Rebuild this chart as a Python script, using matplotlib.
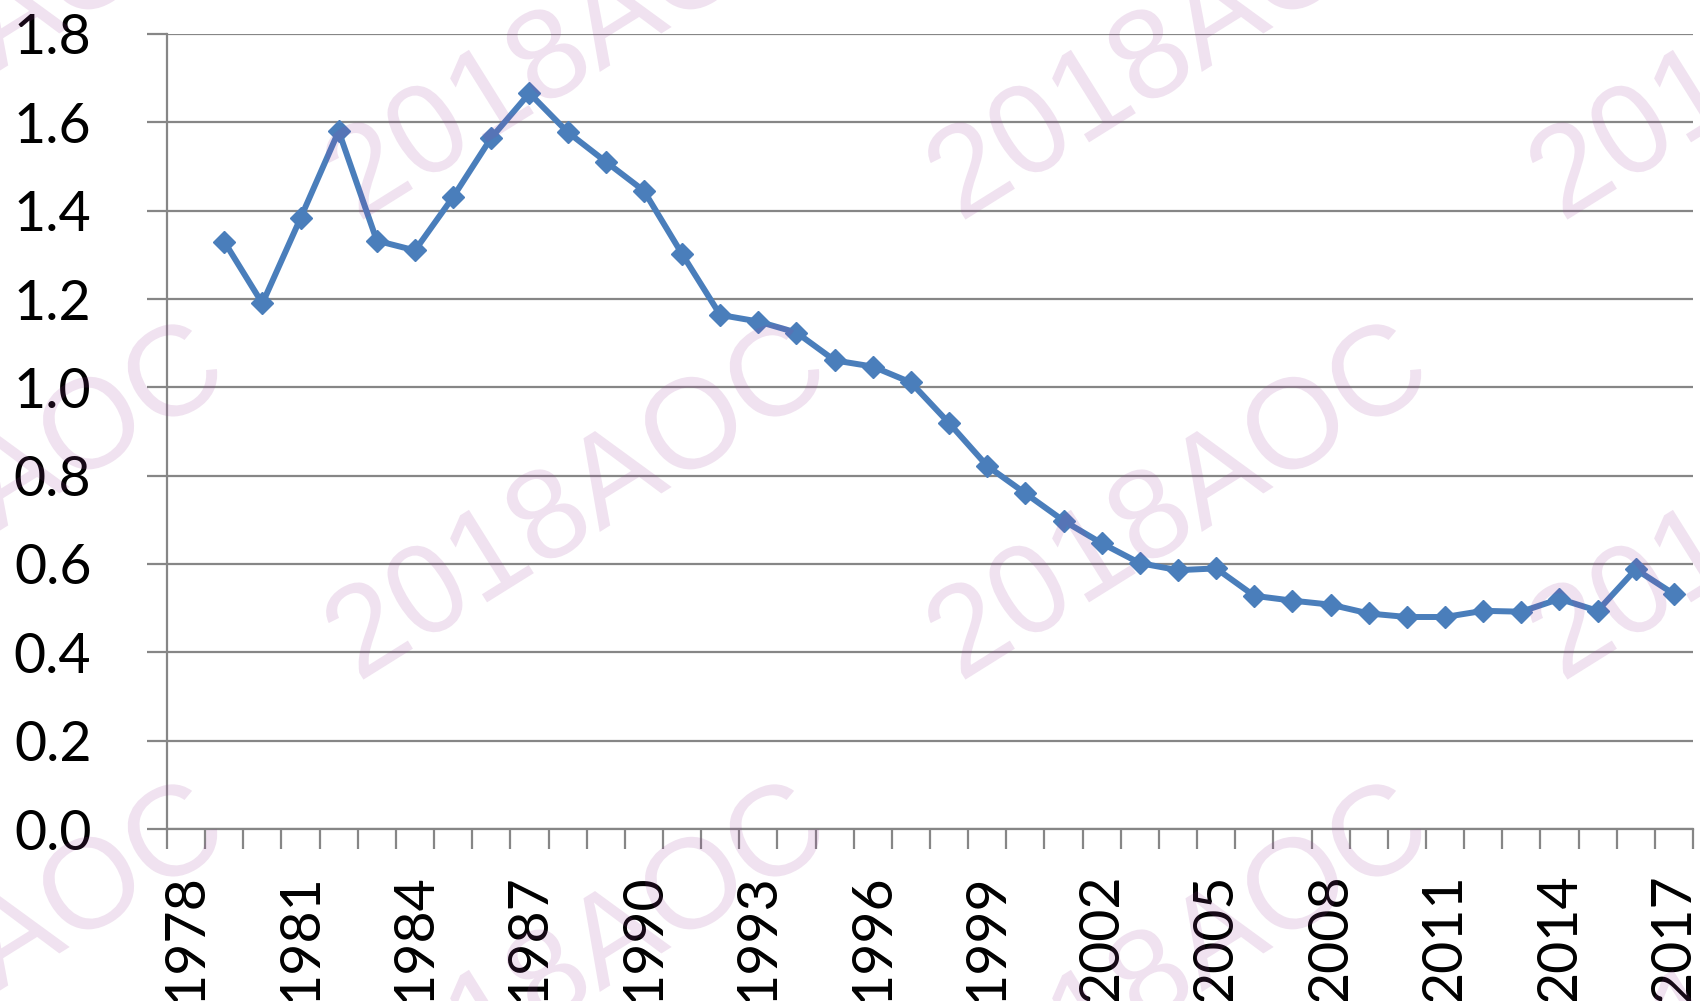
import numpy as np
import matplotlib
matplotlib.use("Agg")
import matplotlib.pyplot as plt
from matplotlib.textpath import TextPath
from matplotlib.patches import PathPatch
from matplotlib.font_manager import FontProperties
from matplotlib.transforms import Affine2D, IdentityTransform

# category axis: 1978..2017, data begins 1979
years = list(range(1978, 2018))
values = [np.nan, 1.330, 1.190, 1.383, 1.580, 1.332, 1.310, 1.431, 1.565, 1.666,
          1.578, 1.511, 1.445, 1.302, 1.164, 1.149, 1.124, 1.061, 1.047, 1.011,
          0.919, 0.822, 0.760, 0.698, 0.647, 0.602, 0.586, 0.590, 0.528, 0.517,
          0.508, 0.488, 0.480, 0.480, 0.494, 0.492, 0.521, 0.494, 0.588, 0.532]
label_years = years[::3]
y_ticks = [0.0, 0.2, 0.4, 0.6, 0.8, 1.0, 1.2, 1.4, 1.6, 1.8]

W, H = 1700, 1001
fig = plt.figure(figsize=(W/100, H/100), dpi=100)
ax = fig.add_axes([167/W, 1-829/H, (1693-167)/W, (829-34)/H])

grey = "#868686"
x = np.arange(len(years))
ax.plot(x, values, color="#4a7ebb", lw=4.3, marker="D", markersize=11.5,
        markeredgecolor="#4a7ebb", zorder=3)

ax.set_xlim(-0.5, len(years)-0.5)
ax.set_ylim(0, 1.8)

ax.set_yticks(y_ticks)
ax.set_yticklabels(["%.1f" % v for v in y_ticks], fontsize=40, family="Lato")
ax.yaxis.grid(True, color=grey, lw=1.6)
ax.tick_params(axis="y", length=14.4, width=1.6, color=grey, pad=40)

# boundary ticks (major) and year labels (minor, no tick mark)
ax.set_xticks(np.arange(-0.5, len(years), 1))
ax.set_xticklabels([])
ax.tick_params(axis="x", which="major", length=14.4, width=1.6, color=grey)
ax.set_xticks([years.index(yy) for yy in label_years], minor=True)
ax.set_xticklabels([str(yy) for yy in label_years], minor=True, rotation=90,
                   fontsize=40, family="Lato")
ax.tick_params(axis="x", which="minor", length=0, pad=32)

for s in ["top", "right"]:
    ax.spines[s].set_visible(False)
for s in ["left", "bottom"]:
    ax.spines[s].set_color(grey)
    ax.spines[s].set_linewidth(1.6)
ax.set_axisbelow(True)

# pale diagonal watermark
tp = TextPath((0, 0), "2018AOC", size=128, prop=FontProperties(family="Liberation Sans"))
for i in range(-1, 3):
    for j in range(-1, 3):
        x0 = 358 + 602*i
        y0 = H - (223 + 460*j)
        tr = Affine2D().rotate_deg(32).translate(x0, y0)
        p = PathPatch(tr.transform_path(tp), transform=IdentityTransform(),
                      facecolor=(155/255, 62/255, 155/255), edgecolor="none",
                      alpha=0.15, zorder=10)
        fig.add_artist(p)

fig.savefig("out.png", dpi=100)
